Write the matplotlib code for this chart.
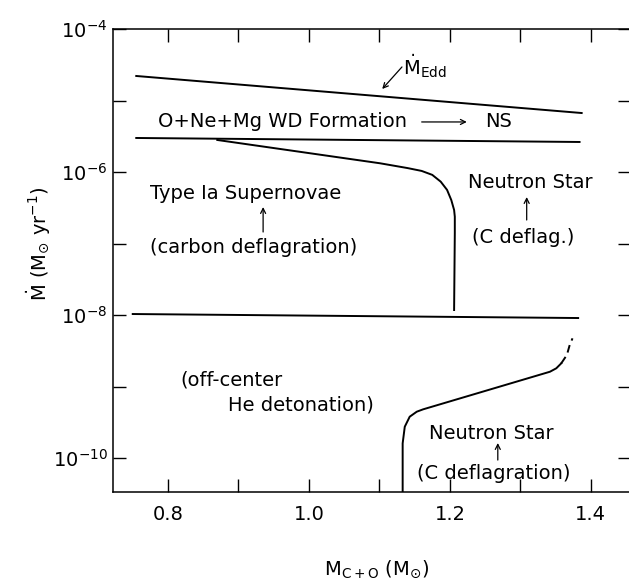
import numpy as np
import matplotlib
matplotlib.use("Agg")
import matplotlib.pyplot as plt
from matplotlib.ticker import FixedLocator, NullFormatter

plt.rcParams['font.family'] = 'DejaVu Sans'
plt.rcParams['mathtext.default'] = 'regular'

# accretion-rate boundaries, mass in Msun, log10 of Mdot in Msun/yr
edd_m = [0.755, 1.387]
edd_logmdot = [-4.657, -5.175]

onemg_m = [0.755, 1.384]
onemg_logmdot = [-5.524, -5.580]

he_m = [0.750, 1.382]
he_logmdot = [-7.986, -8.042]

snia_m = [0.870, 1.101, 1.140, 1.160, 1.175, 1.187, 1.196, 1.202, 1.206, 1.207, 1.207, 1.206]
snia_logmdot = [-5.552, -5.878, -5.945, -5.985, -6.040, -6.135, -6.250, -6.392, -6.531, -6.625, -6.853, -7.930]

ns_m = [1.133, 1.133, 1.136, 1.143, 1.153, 1.162, 1.342, 1.351, 1.358]
ns_logmdot = [-10.48, -9.795, -9.562, -9.422, -9.352, -9.319, -8.793, -8.745, -8.676]

ns_dash_m = [1.358, 1.366, 1.370, 1.374]
ns_dash_logmdot = [-8.676, -8.559, -8.420, -8.326]

xtick_major = [0.8, 1.0, 1.2, 1.4]
xtick_minor = [0.9, 1.1, 1.3]
ytick_pos = [1e-4, 1e-5, 1e-6, 1e-7, 1e-8, 1e-9, 1e-10]
ytick_lab = [r'$10^{-4}$', '', r'$10^{-6}$', '', r'$10^{-8}$', '', r'$10^{-10}$']

fig = plt.figure(figsize=(6.29, 5.88), dpi=100)
ax = fig.add_axes([113/629, 96/588, 518/629, 463/588])
ax.set_yscale('log')
ax.set_xlim(0.722, 1.457)
ax.set_ylim(10**-10.475, 1e-4)

lw = 1.4
def curve(m, logmdot, **kw):
    ax.plot(m, 10**np.array(logmdot), color='black', lw=lw, **kw)

curve(edd_m, edd_logmdot)
curve(onemg_m, onemg_logmdot)
curve(he_m, he_logmdot)
curve(snia_m, snia_logmdot)
curve(ns_m, ns_logmdot)
curve(ns_dash_m, ns_dash_logmdot, linestyle=(0, (4, 2.5)))

for s in ax.spines.values():
    s.set_linewidth(1.1)

ax.xaxis.set_major_locator(FixedLocator(xtick_major))
ax.xaxis.set_minor_locator(FixedLocator(xtick_minor))
ax.xaxis.set_minor_formatter(NullFormatter())
ax.set_xticklabels(['0.8', '1.0', '1.2', '1.4'])
ax.yaxis.set_major_locator(FixedLocator(ytick_pos))
ax.yaxis.set_minor_locator(FixedLocator([]))
ax.set_yticklabels(ytick_lab)
ax.tick_params(axis='both', which='both', direction='in', length=9.5, width=1.0,
               top=True, right=True, labelsize=14)
ax.tick_params(axis='x', pad=9)
ax.tick_params(axis='y', pad=4)

def ly(v):
    return 10**v

fs = 14
txt = dict(fontsize=fs, va='center', ha='left')
ax.text(0.786, ly(-5.30), 'O+Ne+Mg WD Formation', **txt)
ax.text(1.250, ly(-5.30), 'NS', **txt)
ax.text(1.133, ly(-4.643), r'$\dot{M}_{Edd}$', fontsize=fs, va='baseline', ha='left')
ax.text(0.774, ly(-6.294), 'Type Ia Supernovae', **txt)
ax.text(0.774, ly(-7.049), '(carbon deflagration)', **txt)
ax.text(1.2255, ly(-6.14), 'Neutron Star', **txt)
ax.text(1.231, ly(-6.909), '(C deflag.)', **txt)
ax.text(0.817, ly(-8.909), '(off-center', **txt)
ax.text(0.885, ly(-9.259), 'He detonation)', **txt)
ax.text(1.170, ly(-9.650), 'Neutron Star', **txt)
ax.text(1.153, ly(-10.210), '(C deflagration)', **txt)

arr = dict(arrowstyle='->', lw=0.9, color='black', shrinkA=0, shrinkB=0, mutation_scale=9)
def arrow(x0, y0, x1, y1):
    ax.annotate('', xy=(x1, ly(y1)), xytext=(x0, ly(y0)), arrowprops=arr)

arrow(1.160, -5.30, 1.224, -5.30)
arrow(1.132, -4.531, 1.104, -4.839)
arrow(0.935, -6.839, 0.935, -6.490)
arrow(1.309, -6.671, 1.309, -6.350)
arrow(1.268, -10.028, 1.268, -9.790)

ax.set_xlabel(r'$M_{C+O}\ (M_{\odot})$', fontsize=fs)
ax.xaxis.set_label_coords(0.51, -0.143)
ax.set_ylabel(r'$\dot{M}\ (M_{\odot}\ yr^{-1})$', fontsize=fs)
ax.yaxis.set_label_coords(-0.115, 0.536)

fig.savefig('out.png', dpi=100)
